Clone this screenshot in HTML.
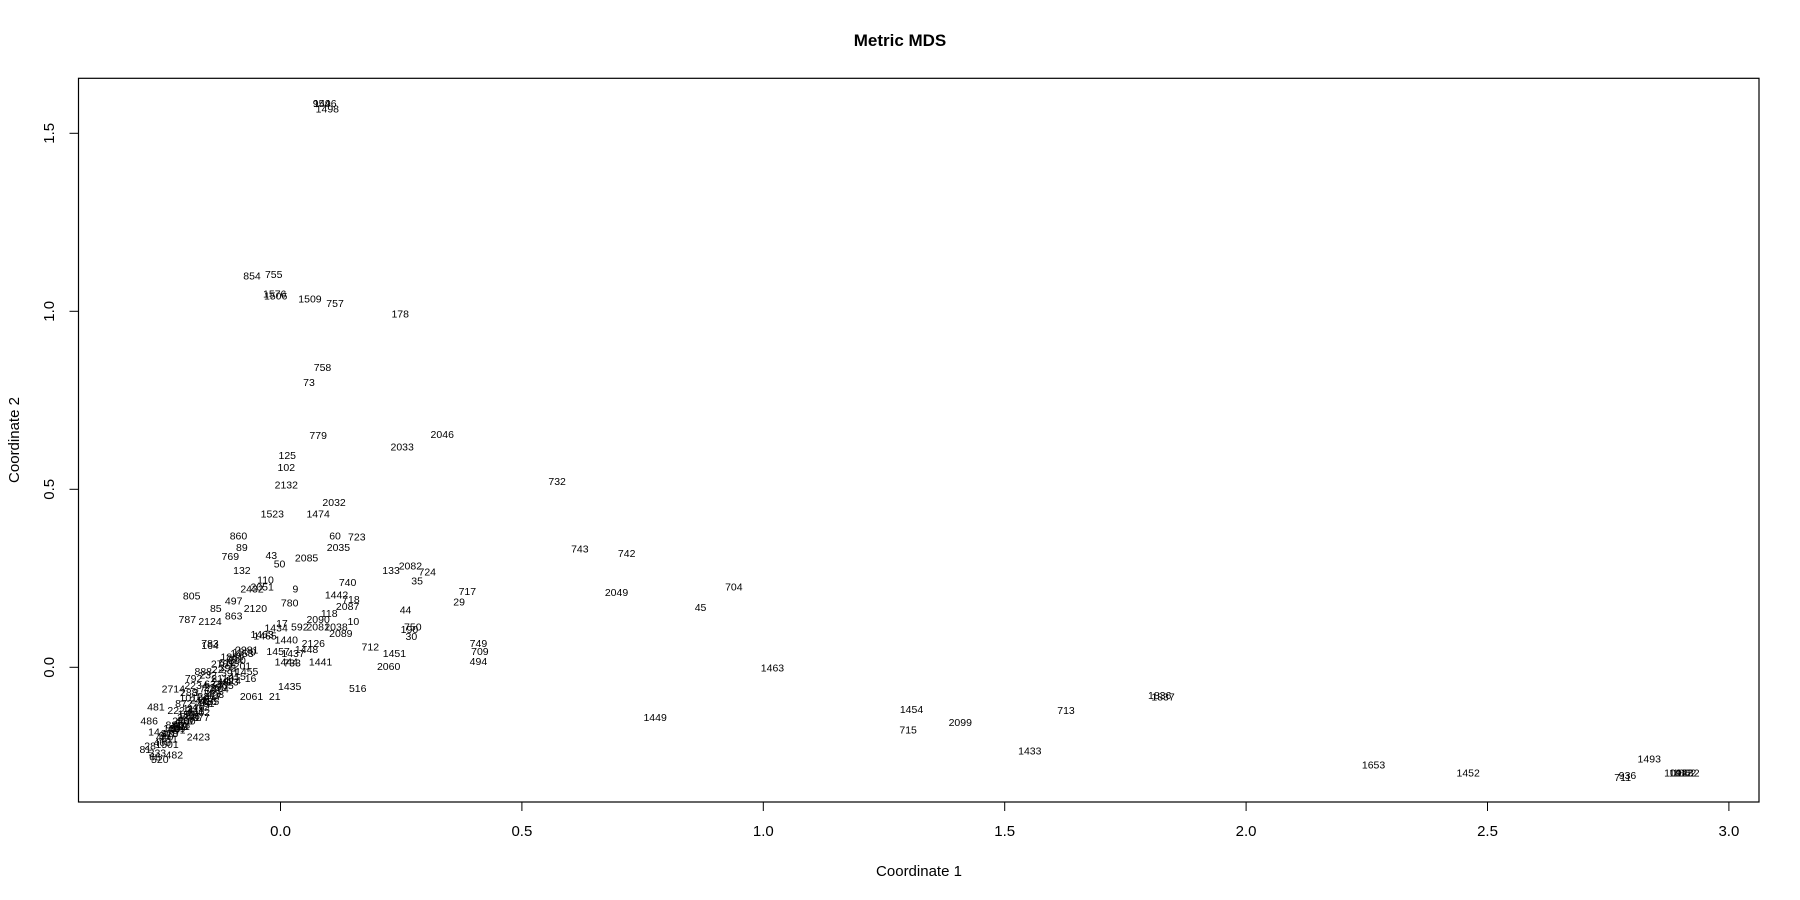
<!DOCTYPE html>
<html><head><meta charset="utf-8"><style>
html,body{margin:0;padding:0;background:#fff;}
svg{display:block;font-family:"Liberation Sans",Arial,sans-serif;}
</style></head><body>
<svg id="chart" width="1800" height="900" viewBox="0 0 1800 900" xmlns="http://www.w3.org/2000/svg">
<rect x="0" y="0" width="1800" height="900" fill="#fff"/>
<text x="900" y="46" text-anchor="middle" font-size="17" font-weight="bold">Metric MDS</text>
<rect x="78.5" y="78.3" width="1680.5" height="723.7" fill="none" stroke="#000" stroke-width="1.2"/>
<g id="xaxis"></g>
<g id="yaxis"></g>
<text x="919" y="876" text-anchor="middle" font-size="15">Coordinate 1</text>
<text x="19" y="440" text-anchor="middle" font-size="15" transform="rotate(-90 19 440)">Coordinate 2</text>
<g id="points"></g>
</svg>
<script>
const xTicks = [0.0, 0.5, 1.0, 1.5, 2.0, 2.5, 3.0];
const xTickLabels = ["0.0","0.5","1.0","1.5","2.0","2.5","3.0"];
const yTicks = [0.0, 0.5, 1.0, 1.5];
const yTickLabels = ["0.0","0.5","1.0","1.5"];
const pointLabels = ["954","1496","1498","854","755","1576","1506","1509","757","178","758","73","779","2046","2033","125","102","2132","732","2032","1523","1474","860","60","723","89","2035","743","742","769","43","50","2085","133","2082","724","132","35","110","740","704","2432","2051","9","717","2049","805","1442","718","29","497","780","2087","45","85","2120","44","863","118","787","2124","10","2090","17","1434","592","2081","2038","750","190","30","2089","1463","1465","749","709","494","783","164","1440","2126","712","1451","2060","1441","1444","733","1437","1448","1457","2281","1463","516","1435","21","2061","1455","16","1449","1454","715","2099","713","1836","1837","1433","1653","1452","1493","711","936","1092","1412","1862","1482",
"2714","2423","482","520","486","481","14","28","81","888","792","1453","2781","872","2222","288","611","232","2234","23","91","623","2341","611","1880","22","241","466","880","392","772","199","341","777","2110","890","1119","661","2200","1501","333","878","1010","1602","248","391","1201","455","877","612","701","1300","2250","180","66","3",
"401","402","403","404","405","406","407","408","409","410","411","412","413","414","415","416","417","418","419","420"];
const xValues = [0.085,0.092,0.097,-0.059,-0.014,-0.012,-0.010,0.061,0.113,0.248,0.087,0.059,0.078,0.335,0.252,0.014,0.012,0.012,0.573,0.111,-0.017,0.078,-0.087,0.113,0.158,-0.080,0.120,0.620,0.717,-0.104,-0.019,-0.002,0.054,0.229,0.269,0.304,-0.080,0.283,-0.031,0.139,0.939,-0.059,-0.038,0.031,0.387,0.696,-0.184,0.116,0.146,0.370,-0.097,0.019,0.139,0.870,-0.134,-0.052,0.259,-0.097,0.101,-0.193,-0.146,0.151,0.078,0.003,-0.009,0.040,0.078,0.115,0.274,0.267,0.271,0.125,-0.038,-0.032,0.410,0.413,0.410,-0.146,-0.146,0.012,0.068,0.186,0.236,0.224,0.083,0.012,0.024,0.026,0.054,-0.005,-0.070,1.019,0.160,0.019,-0.012,-0.060,-0.070,-0.062,0.776,1.307,1.300,1.408,1.627,1.821,1.828,1.552,2.264,2.460,2.835,2.780,2.790,2.890,2.900,2.908,2.915,
-0.222,-0.170,-0.220,-0.250,-0.272,-0.258,-0.262,-0.270,-0.280,-0.160,-0.180,-0.080,-0.120,-0.200,-0.210,-0.190,-0.230,-0.150,-0.175,-0.160,-0.240,-0.140,-0.190,-0.205,-0.100,-0.130,-0.170,-0.245,-0.220,-0.110,-0.150,-0.195,-0.215,-0.160,-0.120,-0.090,-0.180,-0.140,-0.200,-0.235,-0.255,-0.230,-0.185,-0.170,-0.125,-0.105,-0.085,-0.145,-0.165,-0.110,-0.095,-0.075,-0.135,-0.225,-0.260,-0.175,
-0.155,-0.145,-0.135,-0.125,-0.115,-0.185,-0.195,-0.205,-0.215,-0.230,-0.175,-0.165,-0.105,-0.100,-0.090,-0.150,-0.140,-0.200,-0.210,-0.240];
const yValues = [1.585,1.585,1.570,1.100,1.105,1.050,1.045,1.036,1.023,0.994,0.844,0.802,0.653,0.656,0.620,0.597,0.562,0.513,0.523,0.464,0.432,0.432,0.370,0.370,0.367,0.338,0.338,0.334,0.321,0.312,0.315,0.292,0.308,0.273,0.286,0.269,0.273,0.244,0.247,0.240,0.227,0.221,0.227,0.221,0.214,0.211,0.201,0.205,0.192,0.185,0.188,0.182,0.172,0.169,0.166,0.166,0.162,0.146,0.153,0.136,0.130,0.130,0.136,0.125,0.112,0.114,0.114,0.114,0.114,0.107,0.088,0.097,0.094,0.090,0.068,0.046,0.017,0.068,0.062,0.078,0.068,0.058,0.040,0.003,0.016,0.016,0.013,0.040,0.052,0.046,0.050,0.000,-0.058,-0.052,-0.081,-0.080,-0.010,-0.030,-0.140,-0.117,-0.175,-0.153,-0.120,-0.078,-0.082,-0.234,-0.273,-0.295,-0.256,-0.308,-0.302,-0.296,-0.296,-0.296,-0.296,
-0.060,-0.195,-0.245,-0.258,-0.150,-0.110,-0.180,-0.220,-0.230,-0.010,-0.030,0.040,0.010,-0.100,-0.120,-0.070,-0.200,-0.020,-0.050,-0.080,-0.190,-0.045,-0.140,-0.165,0.030,-0.005,-0.090,-0.210,-0.160,0.000,-0.060,-0.130,-0.175,-0.105,-0.030,0.020,-0.115,-0.065,-0.150,-0.215,-0.240,-0.185,-0.085,-0.125,-0.040,-0.015,0.005,-0.095,-0.140,0.015,0.025,0.045,-0.055,-0.170,-0.250,-0.070,
-0.100,-0.085,-0.075,-0.060,-0.050,-0.135,-0.150,-0.160,-0.170,-0.185,-0.120,-0.110,-0.040,-0.035,-0.025,-0.095,-0.080,-0.150,-0.165,-0.195];
const X0 = 280.5, XS = 482.8, Y0 = 667.3, YS = 356;
function sx(v){ return X0 + v*XS; }
function sy(v){ return Y0 - v*YS; }
const NS = "http://www.w3.org/2000/svg";
const xa = document.getElementById('xaxis');
xTicks.forEach((t,i)=>{
  const l = document.createElementNS(NS,'line');
  
  
  l.setAttribute('x1',sx(t)); l.setAttribute('x2',sx(t));
  l.setAttribute('y1',802); l.setAttribute('y2',811);
  l.setAttribute('stroke','#000');
  xa.appendChild(l);
  const tx = document.createElementNS(NS,'text');
  
  
  tx.setAttribute('x',sx(t)); tx.setAttribute('y',836);
  tx.setAttribute('text-anchor','middle'); tx.setAttribute('font-size','15');
  tx.textContent = xTickLabels[i];
  xa.appendChild(tx);
});
const ya = document.getElementById('yaxis');
yTicks.forEach((t,i)=>{
  const l = document.createElementNS(NS,'line');
  
  
  l.setAttribute('x1',69.5); l.setAttribute('x2',78.5);
  l.setAttribute('y1',sy(t)); l.setAttribute('y2',sy(t));
  l.setAttribute('stroke','#000');
  ya.appendChild(l);
  const tx = document.createElementNS(NS,'text');
  
  
  tx.setAttribute('x',54); tx.setAttribute('y',sy(t));
  tx.setAttribute('text-anchor','middle'); tx.setAttribute('font-size','15');
  tx.setAttribute('transform','rotate(-90 54 '+sy(t)+')');
  tx.textContent = yTickLabels[i];
  ya.appendChild(tx);
});
const pg = document.getElementById('points');
pointLabels.forEach((lab,i)=>{
  if (xValues[i]===undefined || yValues[i]===undefined) return;
  const tx = document.createElementNS(NS,'text');
  
  
  tx.setAttribute('x',sx(xValues[i])); tx.setAttribute('y',sy(yValues[i])+4);
  tx.setAttribute('text-anchor','middle'); tx.setAttribute('font-size','10.5');
  tx.textContent = lab;
  pg.appendChild(tx);
});
</script>
</body></html>
